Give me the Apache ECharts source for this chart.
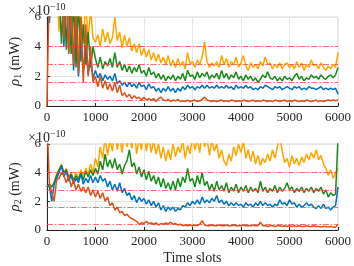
<!DOCTYPE html>
<html><head><meta charset="utf-8">
<script src="https://cdn.jsdelivr.net/npm/echarts@6/dist/echarts.min.js"></script>
<style>html,body{margin:0;padding:0;background:#fff}#c{width:354px;height:266px}</style>
</head><body><div id="c"></div>
<script>
// sampling step of the time-slot axis (slots 0..6000)
const slotStep = 50;
const xTicks = [0, 1000, 2000, 3000, 4000, 5000, 6000];
const yTicks = [0, 2, 4, 6];
const thresholds1 = [4.0, 2.8, 1.6, 0.4];
const thresholds2 = [4.0, 2.8, 1.6, 0.4];
const seriesNames = ['yellow', 'green', 'blue', 'red'];

// ---- top panel (rho_1), units of 1e-10 mW ----
const top_yellow = [8,8,8,8,8,5.0,8,4.6,8,5.2,8,4.0,7,3.6,6.5,4.2,7,4.5,6.5,4.6,
4.3,4.8,4.0,5.2,4.3,5.0,4.2,4.6,6.0,4.4,5.0,3.9,4.8,4.0,4.6,3.7,4.2,3.6,4.2,3.4,
3.9,3.3,3.8,3.1,3.6,3.0,3.5,2.9,3.3,2.8,3.4,2.7,3.1,2.6,3.2,2.7,3.0,2.5,3.6,2.8,
3.0,2.6,3.1,2.8,3.3,4.3,3.0,2.6,2.9,2.7,3.0,2.6,3.4,2.8,3.2,2.6,3.0,2.8,3.3,2.6,
2.9,3.4,2.7,2.4,2.9,2.6,2.8,2.5,3.0,2.7,3.3,2.8,2.9,2.5,2.8,2.6,2.9,2.5,2.8,2.9,
2.6,2.8,2.5,3.0,2.6,2.9,2.4,2.8,2.6,3.1,2.7,2.8,2.5,2.9,2.6,2.4,2.7,2.5,2.8,2.6,3.6];
const top_green = [8,8,8,8,8,8,4.2,8,3.8,8,3.5,7,2.6,7,3.0,5.5,2.8,5.0,2.6,4.0,
3.2,2.6,3.3,2.5,3.0,2.7,3.2,2.6,3.6,2.6,3.0,2.4,2.8,2.3,2.7,2.2,2.6,2.3,2.8,2.2,
2.4,2.0,2.6,2.1,2.3,1.9,2.2,1.8,2.1,1.7,2.0,1.8,2.1,1.7,2.0,1.8,2.2,1.7,2.4,2.0,
2.1,1.8,2.3,1.9,2.2,2.0,2.3,1.8,2.1,1.9,2.2,1.8,2.4,1.9,2.2,1.8,2.1,1.9,2.3,1.8,
2.0,1.7,2.1,1.8,2.0,1.7,1.9,1.6,1.8,2.1,1.9,2.3,1.9,1.8,2.0,1.7,1.9,1.7,2.0,1.8,
1.9,1.7,2.0,2.2,1.8,2.0,1.7,1.9,1.8,2.1,1.9,2.0,1.8,2.1,1.9,1.8,2.0,2.1,1.9,2.1,2.6];
const top_blue = [8,5.6,8,8,8,8,8,4.0,8,3.6,7,2.4,6,2.0,4.5,2.3,4.0,2.2,3.0,1.9,
2.4,1.9,2.2,1.7,2.1,1.8,2.0,1.7,2.2,1.5,1.7,1.4,1.6,1.3,1.6,1.3,1.5,1.2,1.6,1.3,
1.4,1.1,1.5,1.2,1.3,1.0,1.2,0.9,1.2,1.0,1.3,1.0,1.2,0.9,1.2,1.0,1.3,1.1,1.4,1.2,
1.3,1.1,1.3,1.2,1.4,1.2,1.4,1.2,1.3,1.2,1.4,1.2,1.3,1.2,1.4,1.2,1.3,1.1,1.4,1.2,
1.3,1.2,1.4,1.2,1.3,1.1,1.2,1.1,1.3,1.2,1.4,1.3,1.2,1.1,1.3,1.2,1.3,1.1,1.2,1.3,
1.2,1.1,1.3,1.2,1.3,1.1,1.2,1.1,1.3,1.2,1.2,1.1,1.2,1.3,1.1,1.2,1.1,1.2,1.1,1.2,0.8];
const top_red = [0,8,8,8,8,8,8,4.5,8,3.5,7,2.8,6.5,2.2,6,1.6,5.5,2.0,4.0,1.6,
2.0,1.3,2.0,1.2,1.7,1.1,1.5,1.0,1.6,0.9,1.4,0.7,0.9,0.6,0.8,0.5,0.7,0.5,0.6,0.4,
0.6,0.4,0.5,0.4,0.5,0.3,0.5,0.6,0.4,0.35,0.45,0.3,0.4,0.35,0.45,0.3,0.35,0.3,0.4,0.3,
0.35,0.4,0.3,0.35,0.45,0.6,0.4,0.35,0.3,0.35,0.3,0.35,0.4,0.3,0.35,0.3,0.4,0.35,0.3,0.35,
0.3,0.4,0.35,0.3,0.35,0.4,0.3,0.35,0.3,0.4,0.35,0.3,0.35,0.3,0.4,0.35,0.3,0.35,0.4,0.3,
0.35,0.3,0.4,0.35,0.3,0.35,0.3,0.4,0.35,0.3,0.35,0.4,0.3,0.35,0.3,0.35,0.4,0.35,0.4,0.35,0.4];

// ---- bottom panel (rho_2) ----
const bot_yellow = [3.0,3.2,3.0,3.3,3.9,4.2,4.6,4.0,4.3,3.7,4.0,3.5,4.0,3.6,4.2,3.8,4.3,3.9,4.6,4.0,
5.0,4.4,5.8,5.0,6.5,5.2,6.3,5.5,7,5.6,6.5,5.4,7,5.8,6.5,5.7,7,5.3,6.4,5.6,
7,5.5,6.5,5.4,6.2,5.3,6.0,5.0,5.8,4.8,5.6,4.9,6.0,5.1,5.8,5.4,6.3,5.0,5.9,5.3,
6.5,5.6,6.3,5.4,7,5.8,6.4,5.2,6.3,5.5,6.0,5.0,5.6,4.8,4.5,5.3,4.8,5.8,5.2,6.0,
5.4,6.2,5.0,5.6,4.8,5.5,4.6,5.2,4.5,5.0,4.7,5.3,4.8,5.6,5.0,5.8,6.5,5.5,4.7,5.0,
4.4,5.2,4.6,5.0,4.5,5.1,4.7,5.3,4.9,5.4,5.0,5.6,4.9,5.2,4.6,4.3,3.8,4.2,3.6,4.0,4.3];
const bot_green = [3.0,3.2,3.0,3.3,3.8,4.2,4.5,4.0,4.2,3.6,3.9,3.4,3.8,3.5,4.0,3.5,4.1,3.7,4.2,3.8,
4.3,3.9,4.8,4.2,5.3,4.4,4.9,4.3,5.0,4.2,4.6,3.9,4.5,4.8,5.6,4.4,4.7,3.9,4.4,3.7,
4.2,3.5,4.1,3.4,3.8,3.2,3.7,3.0,3.6,2.9,3.3,2.8,3.4,2.8,3.6,3.0,3.7,3.3,4.3,3.4,
3.6,3.0,3.8,3.2,4.0,3.1,3.4,2.8,3.2,2.7,3.4,2.8,3.1,2.7,3.3,2.6,3.0,2.7,3.2,2.6,
3.0,2.7,3.1,2.6,3.0,2.7,2.9,2.6,3.4,2.7,3.0,2.6,2.9,2.7,3.1,2.6,3.0,2.7,2.9,3.3,
2.8,3.0,2.6,2.9,2.7,3.0,2.6,2.9,2.7,3.0,2.6,2.9,2.7,3.0,2.5,2.8,2.3,2.6,2.4,2.5,6.5];
const bot_blue = [3.0,3.1,2.0,3.2,3.6,4.0,4.5,3.7,4.1,3.4,3.8,3.2,3.6,3.3,3.9,3.2,3.6,3.3,3.8,3.3,
3.7,3.3,3.8,3.4,3.6,3.0,3.4,2.8,3.2,2.7,3.3,2.6,2.9,2.4,2.6,2.1,2.4,1.9,2.3,2.0,
2.2,1.8,2.1,1.7,2.0,1.6,1.9,1.4,1.7,1.3,1.6,1.4,1.6,1.3,1.5,1.4,1.7,1.6,1.9,1.7,
2.0,1.8,2.1,1.8,2.3,1.9,2.1,1.9,2.2,2.0,2.4,1.9,2.1,1.8,2.0,1.7,1.9,1.7,1.9,1.7,
1.8,1.6,1.9,1.7,1.8,1.6,1.9,1.7,2.0,1.7,1.9,1.7,1.8,1.6,1.8,1.7,2.1,1.8,1.9,1.7,
2.1,1.8,1.9,1.6,1.8,1.6,1.7,1.9,1.7,1.8,1.6,1.5,1.7,1.5,1.8,1.5,1.6,1.4,1.6,1.7,3.0];
const bot_red = [8,3.3,2.6,2.0,3.5,3.6,4.0,3.8,3.3,3.8,3.0,3.5,2.8,3.2,2.7,3.0,2.6,3.0,2.4,2.8,
2.3,2.7,2.2,2.6,2.0,2.3,1.7,1.9,1.4,1.6,1.2,1.3,1.0,1.1,0.9,0.8,0.7,0.6,0.4,0.5,
0.45,0.6,0.45,0.5,0.4,0.5,0.35,0.45,0.4,0.5,0.4,0.55,0.4,0.45,0.35,0.4,0.3,0.35,0.3,0.35,
0.3,0.35,0.3,0.4,0.65,0.35,0.3,0.3,0.35,0.3,0.3,0.35,0.3,0.3,0.35,0.3,0.3,0.35,0.3,0.3,
0.3,0.35,0.3,0.3,0.3,0.35,0.3,0.3,0.55,0.3,0.3,0.25,0.3,0.3,0.25,0.3,0.3,0.25,0.3,0.25,
0.3,0.25,0.3,0.25,0.3,0.25,0.25,0.3,0.25,0.25,0.3,0.25,0.25,0.2,0.25,0.25,0.2,0.25,0.2,0.2,0.4];

const colors = {yellow:'#FFA500', green:'#1A8A1A', blue:'#0072BD', red:'#D95319'};
const FONT = '"Liberation Serif","DejaVu Serif",serif';
const TXT = '#262626';

function pairs(arr){ return arr.map((v,i)=>[i*slotStep, v]); }

const panels = [
  {data:{yellow:top_yellow, green:top_green, blue:top_blue, red:top_red}, th:thresholds1, sub:'1'},
  {data:{yellow:bot_yellow, green:bot_green, blue:bot_blue, red:bot_red}, th:thresholds2, sub:'2'}
];
const grids = [
  {left:28, right:11, top:17, height:89},
  {left:28, right:11, top:144, height:88}
];

const xAxes = [], yAxes = [], series = [];
panels.forEach((p, gi)=>{
  grids[gi].show = true; grids[gi].borderColor = '#d9d9d9'; grids[gi].borderWidth = 1;
  xAxes.push({
    type:'value', gridIndex:gi, min:xTicks[0], max:xTicks[xTicks.length-1], interval:1000,
    axisLine:{show:true, onZero:false, lineStyle:{color:TXT, width:1}},
    axisTick:{show:true, inside:true, length:3, lineStyle:{color:TXT}},
    axisLabel:{color:TXT, fontFamily:FONT, fontSize:13, margin:5, formatter:v=>String(v)},
    splitLine:{show:true, lineStyle:{color:'#e6e6e6', width:1}},
    name: gi===1 ? 'Time slots' : '', nameLocation:'middle', nameGap:21,
    nameTextStyle:{color:TXT, fontFamily:FONT, fontSize:14}
  });
  yAxes.push({
    type:'value', gridIndex:gi, min:yTicks[0], max:yTicks[yTicks.length-1], interval:2,
    axisLine:{show:true, lineStyle:{color:TXT, width:1}},
    axisTick:{show:true, inside:true, length:3, lineStyle:{color:TXT}},
    axisLabel:{color:TXT, fontFamily:FONT, fontSize:13, margin:6, formatter:v=>String(v)},
    splitLine:{show:true, lineStyle:{color:'#e6e6e6', width:1}},
    name:'{r|ρ}{s|' + p.sub + '}{n| (mW)}', nameLocation:'middle', nameRotate:90, nameGap:15,
    nameTextStyle:{rich:{
      r:{fontFamily:FONT, fontStyle:'italic', fontSize:15, color:TXT},
      s:{fontFamily:FONT, fontSize:10, color:TXT, verticalAlign:'bottom', padding:[6,0,0,0]},
      n:{fontFamily:FONT, fontSize:14, color:TXT}
    }}
  });
  seriesNames.forEach((nm, si)=>{
    const s = {
      type:'line', xAxisIndex:gi, yAxisIndex:gi, data:pairs(p.data[nm]),
      showSymbol:false, symbol:'none', clip:true, animation:false,
      lineStyle:{color:colors[nm], width:1.5}, z:2+si
    };
    if (si===0) {
      s.markLine = {
        silent:true, symbol:'none', animation:false, label:{show:false},
        lineStyle:{color:'rgba(255,70,70,0.8)', width:1, type:[6,2,1.5,2]},
        data:p.th.map(v=>({yAxis:v}))
      };
    }
    series.push(s);
  });
});

const chart = echarts.init(document.getElementById('c'), null, {renderer:'canvas'});
chart.setOption({
  animation:false,
  backgroundColor:'#fff',
  grid:grids, xAxis:xAxes, yAxis:yAxes, series:series,
  graphic:[
    {type:'text', left:28, top:2, style:{text:'×10{e|−10}', rich:{e:{fontSize:10, fontFamily:FONT, fill:TXT, verticalAlign:'top', padding:[0,0,8,0]}}, fontFamily:FONT, fontSize:14, fill:TXT}},
    {type:'text', left:28, top:129, style:{text:'×10{e|−10}', rich:{e:{fontSize:10, fontFamily:FONT, fill:TXT, verticalAlign:'top', padding:[0,0,8,0]}}, fontFamily:FONT, fontSize:14, fill:TXT}}
  ]
});
</script></body></html>
